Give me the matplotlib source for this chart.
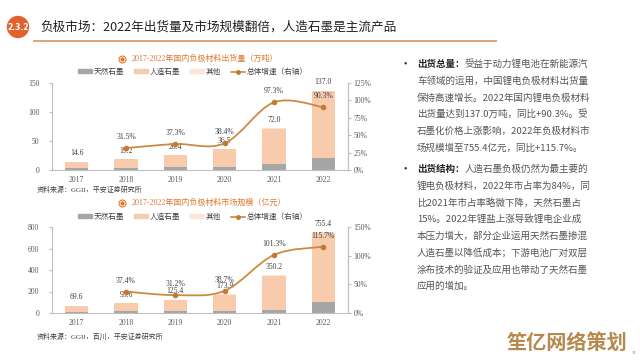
import numpy as np
import matplotlib.pyplot as plt
from matplotlib.path import Path
from matplotlib.patches import PathPatch, Patch, Circle
from matplotlib.lines import Line2D

plt.rcParams['font.family'] = ['Liberation Serif', 'Noto Sans CJK SC', 'DejaVu Sans']

years = ['2017', '2018', '2019', '2020', '2021', '2022']

# 出货量（万吨）
ship_total = [14.6, 19.2, 26.4, 36.5, 72.0, 137.0]
ship_natural = [3.4, 4.0, 5.0, 5.8, 9.7, 20.0]
ship_other = [0.3, 0.3, 0.4, 0.5, 0.8, 1.0]
ship_growth = [None, 31.5, 37.3, 38.4, 97.3, 90.3]

# 市场规模（亿元）
mkt_total = [69.6, 95.6, 125.4, 173.9, 350.2, 755.4]
mkt_natural = [13, 16, 17, 17, 32, 98]
mkt_other = [2, 2, 3, 3, 5, 10]
mkt_growth = [None, 37.4, 31.2, 38.7, 101.3, 115.7]

legend_labels = ['天然石墨', '人造石墨', '其他', '总体增速（右轴）']

header = '负极市场：2022年出货量及市场规模翻倍，人造石墨是主流产品'

bullet1_head = '出货总量：'
bullet1 = ['受益于动力锂电池在新能源汽',
           '车领域的运用，中国锂电负极材料出货量',
           '保持高速增长。2022年国内锂电负极材料',
           '出货量达到137.0万吨，同比+90.3%。受',
           '石墨化价格上涨影响，2022年负极材料市',
           '场规模增至755.4亿元，同比+115.7%。']
bullet2_head = '出货结构：'
bullet2 = ['人造石墨负极仍然为最主要的',
           '锂电负极材料，2022年市占率为84%，同',
           '比2021年市占率略微下降，天然石墨占',
           '15%。2022年锂盐上涨导致锂电企业成',
           '本压力增大，部分企业运用天然石墨掺混',
           '人造石墨以降低成本；下游电池厂对双层',
           '涂布技术的验证及应用也带动了天然石墨',
           '应用的增加。']

C_NAT = '#A6A6A6'
C_ART = '#F8CBAD'
C_OTH = '#FCE4D6'
C_LINE = '#CC8B42'
C_TXT = '#404040'
C_TITLE = '#E0792F'

W, H = 640, 360
fig = plt.figure(figsize=(6.4, 3.6), dpi=100)
fig.patch.set_facecolor('white')
renderer = fig.canvas.get_renderer()

ov = fig.add_axes([0, 0, 1, 1])
ov.set_xlim(0, W)
ov.set_ylim(H, 0)
ov.axis('off')

CJK = ['Noto Sans CJK SC', 'DejaVu Sans']


def fit(t, width):
    # scale font so that the text spans the wanted width in pixels
    w = t.get_window_extent(renderer).width
    t.set_fontsize(t.get_fontsize() * width / w)
    return t.get_fontsize()


# header
ov.add_patch(Circle((18, 27), 10.5, color='#E2622F'))
ov.text(18, 27.5, '2.3.2', color='white', fontsize=5.5, ha='center', va='center',
        fontweight='bold', family=['DejaVu Sans'])
ht = ov.text(40, 27, header, fontsize=9.2, color='#222222', va='center', family=CJK)
fit(ht, 357)
ov.plot([34, 496], [41, 41], color='#D9A679', lw=1.4)

# right text
probe = ov.text(417, 0, bullet1[1], fontsize=7, family=CJK, alpha=0)
fs = fit(probe, 172)
probe.remove()
hprobe = ov.text(417, 0, bullet1_head, fontsize=fs, family=CJK, fontweight='bold')
head_w = hprobe.get_window_extent(renderer).width
hprobe.remove()


def bullet(y0, head, lines):
    ov.text(403, y0, '•', fontsize=7, color='#333333', va='center')
    ov.text(417, y0, head, fontsize=fs, color='#222222', va='center', fontweight='bold',
            family=CJK)
    for i, ln in enumerate(lines):
        x = 417 + (head_w if i == 0 else 0)
        ov.text(x, y0 + i * 16.8, ln, fontsize=fs, color='#555555', va='center', family=CJK)


bullet(64, bullet1_head, bullet1)
bullet(169, bullet2_head, bullet2)

ov.text(567, 342, '笙亿网络策划', fontsize=14.5, color='#B58A4E', ha='center', va='center',
        fontweight='bold', family=CJK)
ov.text(634, 353, '31', fontsize=3.5, color='#888888', ha='center', va='center')


def smooth_line(ax, xs, ys):
    pts = np.column_stack([xs, ys]).astype(float)
    n = len(pts)
    verts = [pts[0]]
    codes = [Path.MOVETO]
    for i in range(n - 1):
        p0 = pts[max(i - 1, 0)]
        p1 = pts[i]
        p2 = pts[i + 1]
        p3 = pts[min(i + 2, n - 1)]
        verts += [p1 + (p2 - p0) / 6, p2 - (p3 - p1) / 6, p2]
        codes += [Path.CURVE4] * 3
    ax.add_patch(PathPatch(Path(verts, codes), fill=False, edgecolor=C_LINE, lw=1.3, zorder=4))
    ax.plot(xs, ys, 'o', color='#C47A30', ms=3, zorder=5)


def chart(y_top, y_bot, title, title_y, legend_y, src, src_y,
          total, natural, other, growth, ymax, ystep, rmax, rstep):
    rect = [52 / W, 1 - y_bot / H, (348 - 52) / W, (y_bot - y_top) / H]
    ax = fig.add_axes(rect)
    x = np.arange(len(years))
    art = [t - n - o for t, n, o in zip(total, natural, other)]
    bw = 0.47
    ax.bar(x, natural, bw, color=C_NAT, zorder=2)
    ax.bar(x, art, bw, bottom=natural, color=C_ART, zorder=2)
    ax.bar(x, other, bw, bottom=[n + a for n, a in zip(natural, art)], color=C_OTH, zorder=2)
    for xi, t in zip(x, total):
        ax.annotate(f'{t:.1f}', (xi, t), xytext=(0, 3), textcoords='offset points',
                    ha='center', va='bottom', fontsize=5.5, color=C_TXT)
    ax.set_xlim(-0.5, 5.5)
    ax.set_ylim(0, ymax)
    ax.set_yticks(np.arange(0, ymax + 1, ystep))
    ax.set_xticks(x, years)
    ax.spines['top'].set_visible(False)
    for s in ['left', 'right', 'bottom']:
        ax.spines[s].set_color('#BFBFBF')
        ax.spines[s].set_linewidth(0.8)
    ax.tick_params(axis='y', labelsize=5.5, colors='#595959', length=2, pad=7, color='#BFBFBF')
    ax.tick_params(axis='x', labelsize=5.5, colors='#595959', length=0, pad=4)

    ax2 = ax.twinx()
    ax2.set_ylim(0, rmax)
    ax2.set_yticks(np.arange(0, rmax + 1, rstep))
    ax2.set_yticklabels([f'{int(v)}%' for v in np.arange(0, rmax + 1, rstep)])
    ax2.tick_params(axis='y', labelsize=5.5, colors='#595959', length=2, pad=2, color='#BFBFBF')
    for s in ['top', 'left', 'bottom']:
        ax2.spines[s].set_visible(False)
    ax2.spines['right'].set_color('#BFBFBF')
    ax2.spines['right'].set_linewidth(0.8)
    gx = [i for i, g in enumerate(growth) if g is not None]
    gy = [g for g in growth if g is not None]
    smooth_line(ax2, gx, gy)
    for xi, g in zip(gx, gy):
        ax2.annotate(f'{g:.1f}%', (xi, g), xytext=(0, 5), textcoords='offset points',
                     ha='center', va='bottom', fontsize=5.5, color=C_TXT, zorder=6)

    # title, legend, source
    ov.plot([122], [title_y], 'o', ms=5, mfc='white', mec=C_TITLE, mew=0.8)
    ov.plot([122], [title_y], 'o', ms=2, color=C_TITLE)
    ov.text(132, title_y, title, fontsize=5.8, color=C_TITLE, va='center')
    handles = [Patch(color=C_NAT), Patch(color=C_ART), Patch(color=C_OTH),
               Line2D([], [], color=C_LINE, lw=1.2, marker='o', ms=2.5, mfc='#C47A30', mec='#C47A30')]
    fig.legend(handles, legend_labels, loc='center', bbox_to_anchor=(193 / W, 1 - legend_y / H),
               ncol=4, frameon=False, fontsize=5.5, handlelength=1.8, handleheight=0.5,
               handletextpad=0.25, columnspacing=1.3, labelcolor='#404040')
    ov.text(37, src_y, src, fontsize=5, color='#404040', va='center')


chart(83, 170, '2017-2022年国内负极材料出货量（万吨）', 59, 72,
      '资料来源：GGII，平安证券研究所', 189,
      ship_total, ship_natural, ship_other, ship_growth, 150, 50, 125, 25)
chart(227, 313, '2017-2022年国内负极材料市场规模（亿元）', 203, 217,
      '资料来源：GGII，百川，平安证券研究所', 336,
      mkt_total, mkt_natural, mkt_other, mkt_growth, 800, 200, 150, 50)

fig.savefig('out.png', dpi=100)
